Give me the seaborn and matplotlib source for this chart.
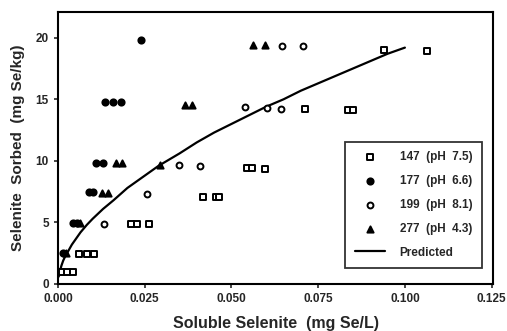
import numpy as np
import pandas as pd
import matplotlib
matplotlib.use("Agg")
import matplotlib.pyplot as plt
import seaborn as sns

# ---- data ----
# soil 147 (pH 7.5), open squares
s147_x = [0.0011, 0.0025, 0.0044, 0.0060, 0.0084, 0.0104, 0.0209, 0.0227, 0.0262,
          0.0418, 0.0455, 0.0465, 0.0545, 0.0560, 0.0596, 0.0713, 0.0835, 0.0850,
          0.0940, 0.1065]
s147_y = [1.0, 1.0, 1.0, 2.45, 2.45, 2.45, 4.9, 4.9, 4.85,
          7.1, 7.05, 7.05, 9.4, 9.4, 9.35, 14.2, 14.1, 14.1,
          19.0, 18.9]

# soil 177 (pH 6.6), filled circles
s177_x = [0.0015, 0.0042, 0.0055, 0.0088, 0.0100, 0.0110, 0.0130,
          0.0135, 0.0159, 0.0181, 0.0239]
s177_y = [2.5, 4.95, 4.95, 7.45, 7.45, 9.85, 9.85,
          14.8, 14.8, 14.8, 19.8]

# soil 199 (pH 8.1), open circles
s199_x = [0.0133, 0.0257, 0.0349, 0.0409, 0.0539, 0.0603, 0.0644, 0.0646, 0.0705]
s199_y = [4.9, 7.3, 9.7, 9.6, 14.4, 14.3, 14.25, 19.35, 19.3]

# soil 277 (pH 4.3), filled triangles
s277_x = [0.0022, 0.0062, 0.0128, 0.0145, 0.0168, 0.0185, 0.0294,
          0.0365, 0.0385, 0.0563, 0.0598]
s277_y = [2.5, 4.95, 7.4, 7.4, 9.85, 9.85, 9.7,
          14.55, 14.55, 19.4, 19.4]

# predicted curve
pred_x = [0.0002, 0.0006, 0.001, 0.0015, 0.002, 0.003, 0.004, 0.005, 0.0065,
          0.0083, 0.010, 0.013, 0.016, 0.020, 0.025, 0.029, 0.035, 0.040,
          0.045, 0.050, 0.055, 0.060, 0.065, 0.070, 0.075, 0.080, 0.085,
          0.090, 0.095, 0.100]
pred_y = [0.6, 1.1, 1.5, 1.9, 2.2, 2.7, 3.2, 3.6, 4.2,
          4.8, 5.3, 6.1, 6.8, 7.8, 8.8, 9.6, 10.6, 11.5,
          12.3, 13.0, 13.7, 14.4, 15.0, 15.7, 16.3, 16.9, 17.5,
          18.1, 18.7, 19.2]

x_ticks = [0.000, 0.025, 0.050, 0.075, 0.100, 0.125]
y_ticks = [0, 5, 10, 15, 20]

# ---- plot ----
sns.set_style("ticks")
plt.rcParams['font.family'] = ['Liberation Sans', 'DejaVu Sans']
plt.rcParams['font.weight'] = 'bold'

fig = plt.figure(figsize=(5.07, 3.31), dpi=100)
ax = fig.add_axes([0.1144, 0.142, 0.858, 0.822])

series = [
    ('147  (pH  7.5)', s147_x, s147_y, 's', 'white', 20),
    ('177  (pH  6.6)', s177_x, s177_y, 'o', 'black', 20),
    ('199  (pH  8.1)', s199_x, s199_y, 'o', 'white', 18),
    ('277  (pH  4.3)', s277_x, s277_y, '^', 'black', 20),
]
for label, xs, ys, mk, fc, size in series:
    df = pd.DataFrame({'x': xs, 'y': ys})
    sns.scatterplot(data=df, x='x', y='y', ax=ax, marker=mk, s=size,
                    facecolor=fc, edgecolor='black', linewidth=1.4,
                    label=label, zorder=3)

pred = pd.DataFrame({'x': pred_x, 'y': pred_y})
sns.lineplot(data=pred, x='x', y='y', ax=ax, color='black', linewidth=1.6,
             label='Predicted', zorder=2)

ax.set_xlim(0, 0.1254)
ax.set_ylim(0, 22.1)
ax.set_xticks(x_ticks)
ax.set_xticklabels([f'{t:.3f}' for t in x_ticks])
ax.set_yticks(y_ticks)
ax.tick_params(labelsize=8.5, length=3, width=1.2, direction='out')
for lbl in ax.get_xticklabels() + ax.get_yticklabels():
    lbl.set_fontweight('bold')

for sp in ax.spines.values():
    sp.set_visible(True)
    sp.set_linewidth(1.5)
    sp.set_color('black')

ax.set_xlabel('Soluble Selenite  (mg Se/L)', fontsize=11.5, fontweight='bold', labelpad=8)
ax.set_ylabel('Selenite  Sorbed  (mg Se/kg)', fontsize=11, fontweight='bold', labelpad=8)

leg = ax.legend(loc='lower right', bbox_to_anchor=(0.974, 0.059), fontsize=8.5,
                frameon=True, fancybox=False, edgecolor='black', borderpad=0.8,
                labelspacing=1.0, handlelength=2.6, handletextpad=1.2,
                borderaxespad=0)
leg.get_frame().set_linewidth(1.3)
for t in leg.get_texts():
    t.set_fontweight('bold')

fig.savefig('out.png', dpi=100)
plt.close(fig)
